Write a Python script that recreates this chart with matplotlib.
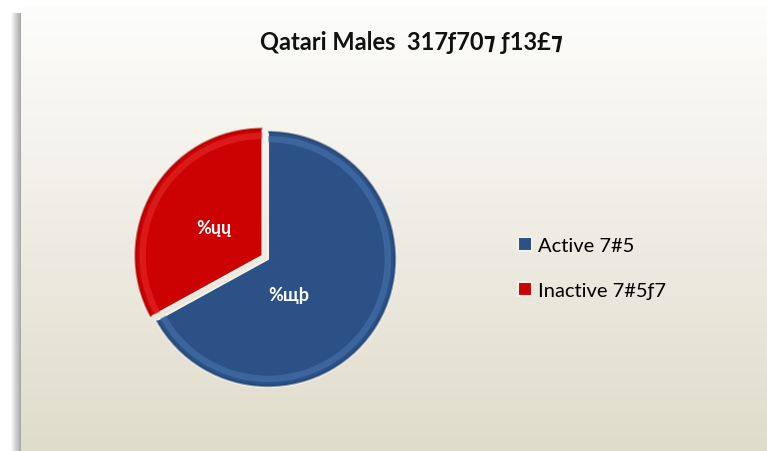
import numpy as np
import matplotlib.pyplot as plt
from matplotlib.patches import Rectangle

plt.rcParams['font.family'] = ['Lato', 'DejaVu Sans']

# chart data
title = "Qatari Males  317ƒ70⁊ ƒ13£⁊"
categories = ["Active 7#5", "Inactive 7#5ƒ7"]
shares = [67, 33]
pct_labels = ["%щþ", "%ųų"]
colors = ["#2b5186", "#cc0202"]
explode = [0, 0.05]

W, H = 767, 452
fig = plt.figure(figsize=(W / 100, H / 100), dpi=100)

# background: white top strip, beige gradient panel with a soft shadow on the left
bg = fig.add_axes([0, 0, 1, 1])
bg.set_xlim(0, W)
bg.set_ylim(H, 0)
bg.axis('off')
bg.add_patch(Rectangle((0, 0), W, H, color='white', zorder=0))
top = np.array([0.992, 0.992, 0.988])
bot = np.array([0.878, 0.863, 0.796])
t = np.linspace(0, 1, 256)[:, None, None]
grad = top + (bot - top) * t
grad = np.repeat(grad, 2, axis=1)
bg.imshow(grad, extent=[21, W, H, 8], aspect='auto', zorder=1)
for i in range(10):
    a = 0.04 + 0.06 * i
    bg.add_patch(Rectangle((11 + i, 14), 1, H, color='0.42', alpha=a, lw=0, zorder=1))

fig.text(0.537, 0.905, title, ha='center', va='center', fontsize=17,
         fontweight='bold', color='#111111')

# pie
cx, cy, half = 268 / W, 1 - 260 / H, 150
ax = fig.add_axes([cx - half / W, cy - half / H, 2 * half / W, 2 * half / H])
wedges, _, autotexts = ax.pie(
    shares, colors=colors, explode=explode, startangle=90, counterclock=False,
    autopct=lambda p: pct_labels[0] if p > 50 else pct_labels[1],
    pctdistance=0.44, radius=1.0,
    wedgeprops=dict(edgecolor='#f4f1e8', linewidth=1.5),
    textprops=dict(color='white', fontsize=13, fontweight='bold'))
autotexts[0].set_position((0.16, -0.28))

# rim highlight for a bevelled look
ax.pie(shares, colors=['#4f79b5', '#e83030'], explode=explode, startangle=90,
       counterclock=False, radius=0.96,
       wedgeprops=dict(width=0.05, edgecolor='none', alpha=0.5))
ax.pie(shares, colors=['#203f6b', '#a00000'], explode=explode, startangle=90,
       counterclock=False, radius=1.0,
       wedgeprops=dict(width=0.02, edgecolor='none', alpha=0.5))
for tx in autotexts:
    tx.set_zorder(10)
ax.set_xlim(-1.17, 1.17)
ax.set_ylim(-1.17, 1.17)
ax.set_aspect('equal')

fig.legend(wedges, categories, loc='center left', bbox_to_anchor=(0.652, 0.405),
           frameon=False, fontsize=14.5, handlelength=0.7, handleheight=0.7,
           handletextpad=0.3, labelspacing=1.35)

fig.savefig("out.png", dpi=100)
